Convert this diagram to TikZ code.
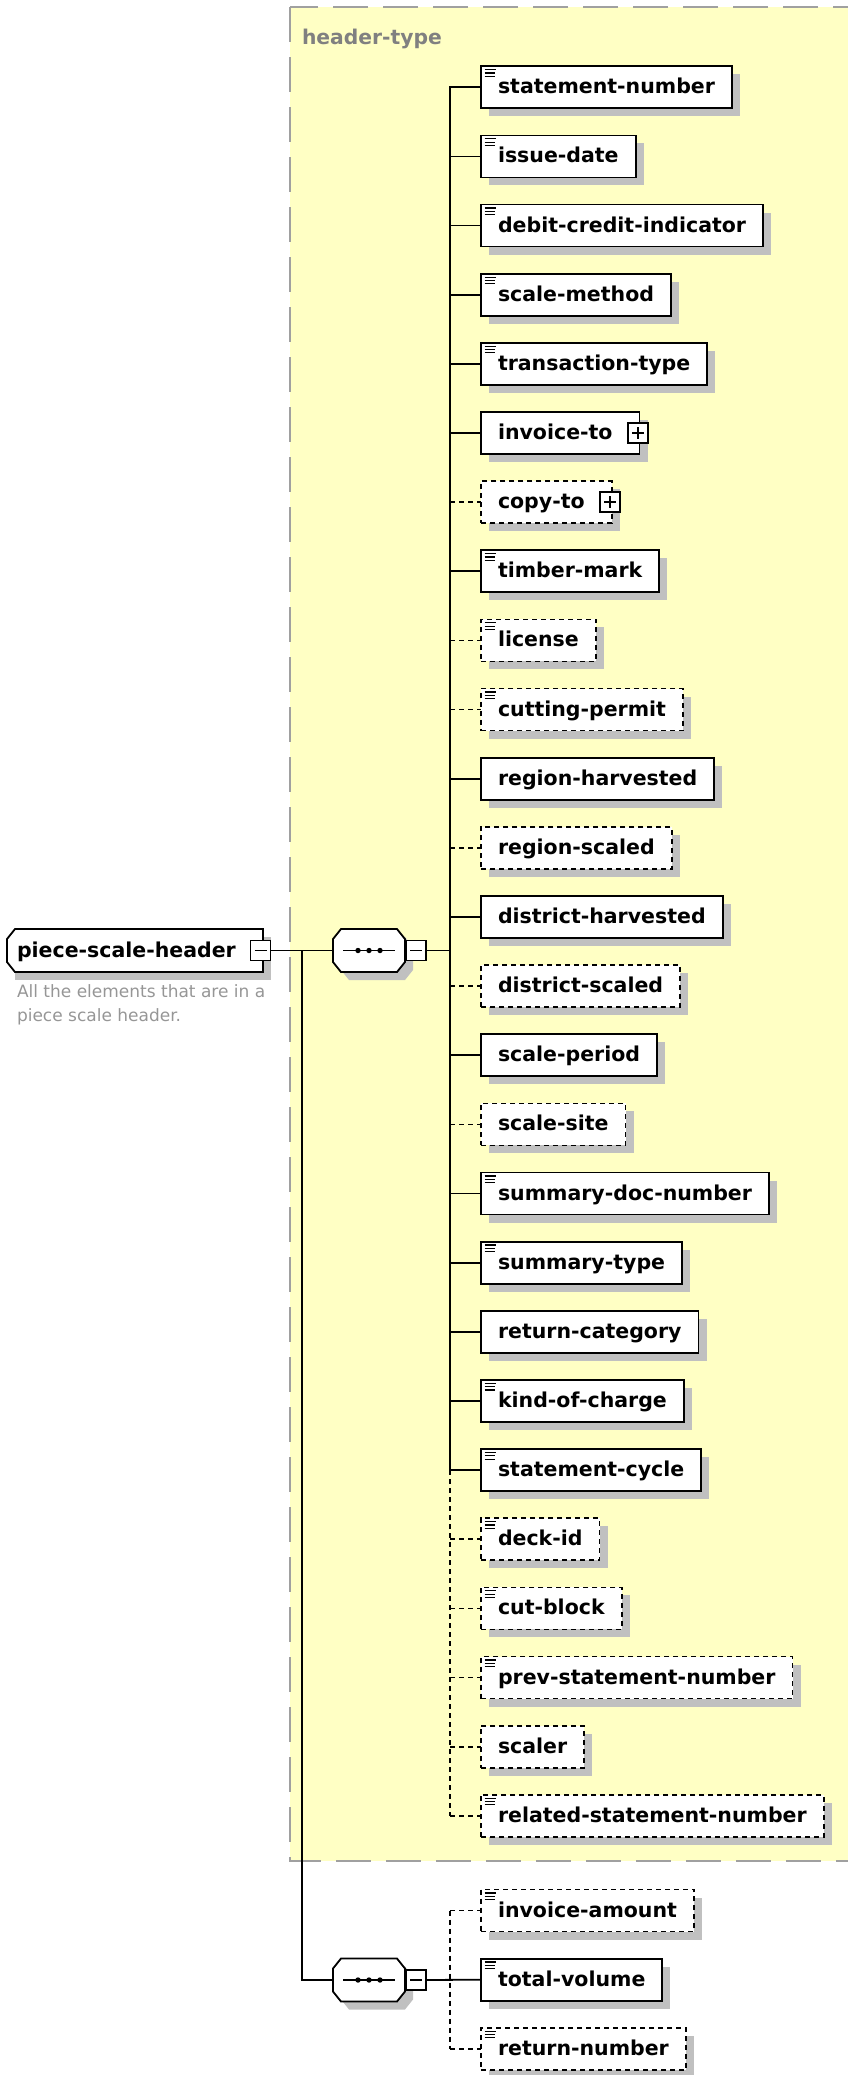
\documentclass[tikz,border=0pt]{standalone}
\usepackage{fontspec}
\setmainfont{DejaVu Sans}
\usetikzlibrary{shadows}
\definecolor{ylw}{RGB}{255,255,196}
\definecolor{shd}{RGB}{192,192,192}
\definecolor{frm}{RGB}{160,160,160}
\definecolor{lblc}{RGB}{128,128,128}
\definecolor{dscc}{RGB}{150,150,150}
\newcommand\octpath[2]{(#1-28,#2-21.5) -- (#1+28,#2-21.5) -- (#1+36,#2-11.5) -- (#1+36,#2+11.5) -- (#1+28,#2+21.5) -- (#1-28,#2+21.5) -- (#1-36,#2+11.5) -- (#1-36,#2-11.5) -- cycle}
\begin{document}
\begin{tikzpicture}[x=1pt,y=-1pt,
  every node/.style={outer sep=0pt},
  boxfont/.style={font=\fontsize{20.5}{24}\selectfont\bfseries},
  s0/.style={draw=black, line width=1.8pt, fill=white, anchor=west,
    minimum height=42pt, inner xsep=17pt, inner ysep=0pt,
    text height=16pt, text depth=3pt, boxfont,
    drop shadow={shadow xshift=8pt, shadow yshift=-8pt, opacity=1, fill=shd}},
  s1/.style={s0, dash pattern=on 5pt off 4pt},
  l0/.style={line width=1.8pt, line cap=rect},
  l1/.style={line width=1.8pt, dash pattern=on 5pt off 4pt},
  pm/.style={draw=black, fill=white, line width=1.5pt, minimum width=20pt,
    minimum height=20pt, inner sep=0pt},
  sign/.style={line width=1.5pt},
  icon/.style={line width=1.2pt},
  seqn/.style={minimum width=72pt, minimum height=43pt, inner sep=0pt},
  frame/.style={draw=frm, fill=ylw, line width=1.6pt, dash pattern=on 35pt off 15pt},
]
\useasboundingbox (0,0) rectangle (847,2075);

% container header-type
\draw[frame] (290,7) rectangle (900,1861);
\node[anchor=base west, inner sep=0pt, text=lblc, font=\fontsize{20.3}{24}\selectfont\bfseries] (htl) at (302,44) {header-type};

% root element
\node[anchor=west, fill=white, minimum height=43pt, inner xsep=10pt, inner ysep=0pt,
  text width=236pt, align=left, text height=16pt, text depth=3pt, boxfont,
  drop shadow={shadow xshift=8pt, shadow yshift=-8pt, opacity=1, fill=shd}] (root) at (7,950.5) {piece-scale-header};
\draw[line width=1.8pt] ([xshift=8pt]root.north west) -- (root.north east) -- (root.south east)
  -- ([xshift=8pt]root.south west) -- ([yshift=10pt]root.south west) -- ([yshift=-10pt]root.north west) -- cycle;
\node[pm] (rm) at (260.5,950.5) {};
\draw[sign] ([xshift=4pt]rm.west) -- ([xshift=-4pt]rm.east);
\node[anchor=north west, inner sep=0pt, align=left, text=dscc, font=\fontsize{17}{24}\selectfont] (desc) at (17,985) {All the elements that are in a\\piece scale header.};

% sequence 1
\begin{scope}[shift={(8,8)}]
\fill[shd] \octpath{369}{950.5};
\end{scope}
\draw[line width=1.8pt, fill=white] \octpath{369}{950.5};
\node[seqn] (s1) at (369,950.5) {};
\draw[line width=1.6pt] ([xshift=10pt]s1.west) -- ([xshift=-10pt]s1.east);
\fill (s1.center) circle (2.7pt);
\fill ([xshift=-11pt]s1.center) circle (2.7pt);
\fill ([xshift=11pt]s1.center) circle (2.7pt);
\node[pm] (m1) at (416,950.5) {};
\draw[sign] ([xshift=4pt]m1.west) -- ([xshift=-4pt]m1.east);

% sequence 2
\begin{scope}[shift={(8,8)}]
\fill[shd] \octpath{369}{1980};
\end{scope}
\draw[line width=1.8pt, fill=white] \octpath{369}{1980};
\node[seqn] (s2) at (369,1980) {};
\draw[line width=1.6pt] ([xshift=10pt]s2.west) -- ([xshift=-10pt]s2.east);
\fill (s2.center) circle (2.7pt);
\fill ([xshift=-11pt]s2.center) circle (2.7pt);
\fill ([xshift=11pt]s2.center) circle (2.7pt);
\node[pm] (m2) at (416,1980) {};
\draw[sign] ([xshift=4pt]m2.west) -- ([xshift=-4pt]m2.east);

% root connectors
\coordinate (j) at (302,950.5);
\draw[l0] (rm.east) -- (s1.west);
\draw[l0] (j) |- (s2.west);

% header-type children
\foreach \t/\o/\ic/\pl [count=\i from 0] in {
  statement-number/0/1/0, issue-date/0/1/0, debit-credit-indicator/0/1/0,
  scale-method/0/1/0, transaction-type/0/1/0, invoice-to/0/0/1, copy-to/1/0/1,
  timber-mark/0/1/0, license/1/1/0, cutting-permit/1/1/0, region-harvested/0/0/0,
  region-scaled/1/0/0, district-harvested/0/0/0, district-scaled/1/0/0,
  scale-period/0/0/0, scale-site/1/0/0, summary-doc-number/0/1/0,
  summary-type/0/1/0, return-category/0/0/0, kind-of-charge/0/1/0,
  statement-cycle/0/1/0, deck-id/1/1/0, cut-block/1/1/0,
  prev-statement-number/1/1/0, scaler/1/0/0, related-statement-number/1/1/0} {
  \pgfmathsetmacro\yy{87.3+69.14*\i}
  \node[s\o] (h\i) at (481,\yy) {\t\ifnum\pl=1 \hspace*{10pt}\fi};
  \coordinate (v\i) at (450,\yy);
  \draw[l\o] (v\i) -- (h\i.west);
  \ifnum\ic=1
    \draw[icon] ([xshift=3.5pt,yshift=-3.4pt]h\i.north west) -- ++(11pt,0);
    \draw[icon] ([xshift=3.5pt,yshift=-6.7pt]h\i.north west) -- ++(10pt,0);
    \draw[icon] ([xshift=3.5pt,yshift=-10pt]h\i.north west) -- ++(10pt,0);
  \fi
  \ifnum\pl=1
    \node[pm] (p\i) at ([xshift=-1.5pt]h\i.east) {};
    \draw[sign] ([xshift=4pt]p\i.west) -- ([xshift=-4pt]p\i.east);
    \draw[sign] ([yshift=-4pt]p\i.north) -- ([yshift=4pt]p\i.south);
  \fi
}
\draw[l0] (v0) -- (v20);
\draw[l1] (v20) -- (v25);
\coordinate (c1) at (450,950.5);
\draw[l0] (m1.east) -- (c1);

% second sequence children
\foreach \t/\o [count=\k from 0] in {invoice-amount/1, total-volume/0, return-number/1} {
  \pgfmathsetmacro\yy{1910.5+69.14*\k}
  \node[s\o] (g\k) at (481,\yy) {\t};
  \coordinate (w\k) at (450,\yy);
  \draw[icon] ([xshift=3.5pt,yshift=-3.4pt]g\k.north west) -- ++(11pt,0);
  \draw[icon] ([xshift=3.5pt,yshift=-6.7pt]g\k.north west) -- ++(10pt,0);
  \draw[icon] ([xshift=3.5pt,yshift=-10pt]g\k.north west) -- ++(10pt,0);
}
\draw[l1] (w0) -- (w2);
\draw[l1] (w0) -- (g0.west);
\draw[l1] (w2) -- (g2.west);
\draw[l0] (m2.east) -- (g1.west);
\end{tikzpicture}
\end{document}
